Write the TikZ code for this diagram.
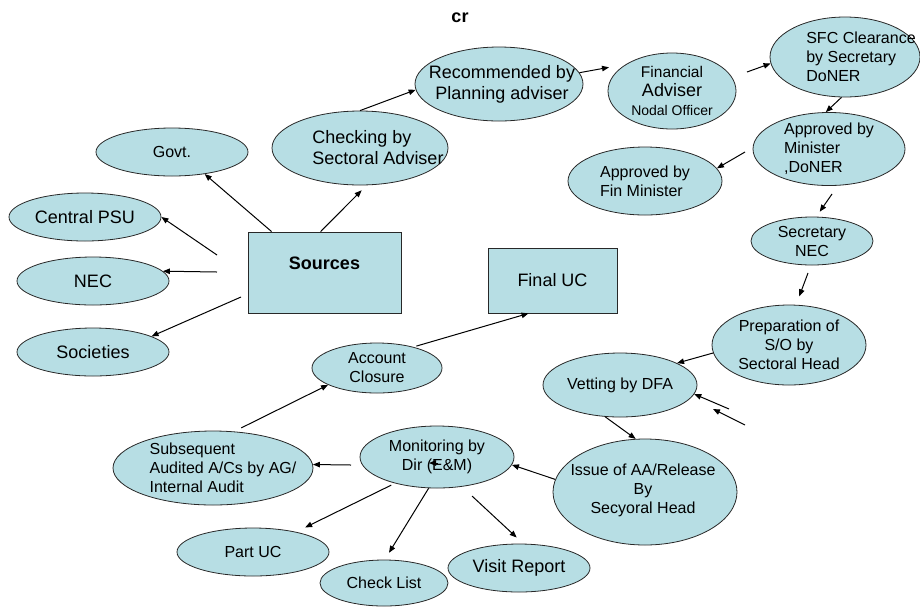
\documentclass[tikz,border=0pt]{standalone}
\usepackage{fontspec}
\setmainfont{Liberation Sans}
\usetikzlibrary{shapes.geometric, arrows.meta, positioning}
\definecolor{bubblefill}{RGB}{183,222,228}
\definecolor{edgegray}{RGB}{40,40,40}
\tikzset{
  bubble/.style={ellipse, draw=edgegray, line width=0.8pt, fill=bubblefill, inner sep=0pt, align=center, font=\fontsize{16}{19}\selectfont},
  boxnode/.style={rectangle, draw=edgegray, line width=0.8pt, fill=bubblefill, inner sep=0pt},
  bigtxt/.style={font=\fontsize{18}{21}\selectfont},
  flow/.style={-{Triangle[length=7pt,width=5.5pt]}, line width=1pt, black},
}

\begin{document}
\begin{tikzpicture}[x=1pt, y=-1pt]
  \useasboundingbox (0,0) rectangle (920,606);

  % Title
  \node[font=\bfseries\fontsize{18}{21}\selectfont] (title) at (460,18) {cr};

  % Sources and where they come from
  \node[boxnode, minimum width=153pt, minimum height=81pt, label={[font=\bfseries\fontsize{18}{21}\selectfont, yshift=9pt]center:Sources}] (src) at (324.5,272.5) {};
  \node[bubble, minimum width=152pt, minimum height=48pt] (govt) at (172,152) {Govt.};
  \node[bubble, bigtxt, minimum width=152pt, minimum height=48pt] (psu) at (85,217) {Central PSU};
  \node[bubble, bigtxt, minimum width=152pt, minimum height=48pt] (nec) at (93,281) {NEC};
  \node[bubble, bigtxt, minimum width=152pt, minimum height=48pt] (soc) at (93,352) {Societies};

  % Appraisal chain
  \node[bubble, minimum width=176pt, minimum height=74pt, label={[bigtxt, align=left, xshift=18pt]center:{Checking by\\Sectoral Adviser}}] (check) at (360,148) {};
  \node[bubble, minimum width=168pt, minimum height=74pt, label={[bigtxt, align=center, xshift=3pt]center:{Recommended by\\Planning adviser}}] (rec) at (499,84) {};
  \node[bubble, minimum width=128pt, minimum height=76pt] (fin) at (672,91) {\fontsize{15.5}{19}\selectfont Financial\\\fontsize{18}{19}\selectfont Adviser\\\fontsize{14}{19}\selectfont Nodal Officer};
  \node[bubble, minimum width=150pt, minimum height=80pt, label={[font=\fontsize{16}{19}\selectfont, align=left, xshift=16pt]center:{SFC Clearance\\by Secretary\\DoNER}}] (sfc) at (845,57) {};
  \node[bubble, align=left, minimum width=152pt, minimum height=72pt] (mnst) at (829,149) {Approved by\\Minister\\,DoNER};
  \node[bubble, align=left, minimum width=154pt, minimum height=68pt] (finm) at (645,181) {Approved by\\Fin Minister};
  \node[bubble, minimum width=122pt, minimum height=48pt] (sec) at (812,241) {Secretary\\NEC};
  \node[bubble, minimum width=154pt, minimum height=80pt] (prep) at (789,345) {Preparation of\\S/O by\\Sectoral Head};
  \node[bubble, minimum width=154pt, minimum height=64pt] (vet) at (620,385) {Vetting by DFA};
  \node[bubble, minimum width=184pt, minimum height=106pt, label={[font=\fontsize{16}{19}\selectfont, align=center, xshift=-2pt, yshift=2pt]center:{Issue of AA/Release\\By\\Secyoral Head}}] (iss) at (645,492) {};

  % Monitoring and closure
  \node[bubble, minimum width=154pt, minimum height=62pt] (mon) at (437,457) {Monitoring by\\Dir (E\&M)};
  \node[bubble, minimum width=200pt, minimum height=74pt, label={[font=\fontsize{16}{19}\selectfont, align=left, xshift=10pt]center:{Subsequent\\Audited A/Cs by AG/\\Internal Audit}}] (sub) at (213,468) {};
  \node[bubble, minimum width=130pt, minimum height=50pt] (acc) at (377,368) {Account\\Closure};
  \node[boxnode, bigtxt, minimum width=129pt, minimum height=65pt] (final) at (552.5,280.5) {Final UC};
  \node[bubble, minimum width=152pt, minimum height=48pt] (part) at (253,552) {Part UC};
  \node[bubble, minimum width=128pt, minimum height=46pt] (chk) at (384,583) {Check List};
  \node[bubble, bigtxt, minimum width=142pt, minimum height=48pt] (vis) at (519,568) {Visit Report};

  % Free arrow ends
  \coordinate (psuTail) at (217,255);
  \coordinate (necTail) at (217,272);
  \coordinate (socTail) at (241,297);
  \coordinate (sfcTail) at (747,72);
  \coordinate (finmTail) at (745,152);
  \coordinate (secTail) at (832,194);
  \coordinate (prepTail) at (808,273);
  \coordinate (vetTailA) at (729,409);
  \coordinate (vetTailB) at (745,425);
  \coordinate (vetTipB) at (713,409);
  \coordinate (monStub) at (438,463);
  \coordinate (monStubTip) at (429,463);
  \coordinate (subTail) at (351,465);
  \coordinate (visTail) at (472,496);

  % Arrows
  \draw[flow] ([xshift=24pt]src.north west) -- (govt.-34);
  \draw[flow, shorten >=7pt] ([xshift=73pt]src.north west) -- (check.-80);
  \draw[flow] (check.north) -- (rec.184);
  \draw[flow] (psuTail) -- (psu.east);
  \draw[flow] (necTail) -- (nec.8);
  \draw[flow] (socTail) -- (soc.15);
  \draw[flow, shorten >=17pt] (rec.8) -- (fin.150);
  \draw[flow] (sfcTail) -- (sfc.185);
  \draw[flow] (sfc.-95) -- (mnst.95);
  \draw[flow] (finmTail) -- (finm.10);
  \draw[flow, shorten >=6pt] (secTail) -- (sec.80);
  \draw[flow, shorten >=9pt] (prepTail) -- (prep.80);
  \draw[flow] (prep.186) -- (vet.21);
  \draw[flow] (vetTailA) -- (vet.-7);
  \draw[flow] (vetTailB) -- (vetTipB);
  \draw[flow] (vet.-115) -- (iss.100);
  \draw[flow] (iss.172) -- (mon.-6);
  \draw[flow] (monStub) -- (monStubTip);
  \draw[flow] (subTail) -- (sub.2);
  \draw[flow, shorten <=8pt] (sub.60) -- (acc.199);
  \draw[flow, shorten <=3pt] (acc.30) -- ([xshift=-24pt]final.south);
  \draw[flow, shorten <=4pt, shorten >=10pt] (mon.-148) -- (part.25);
  \draw[flow, shorten >=8pt] (mon.-105) -- (chk.88);
  \draw[flow, shorten >=9pt] (visTail) -- (vis.80);
\end{tikzpicture}
\end{document}
